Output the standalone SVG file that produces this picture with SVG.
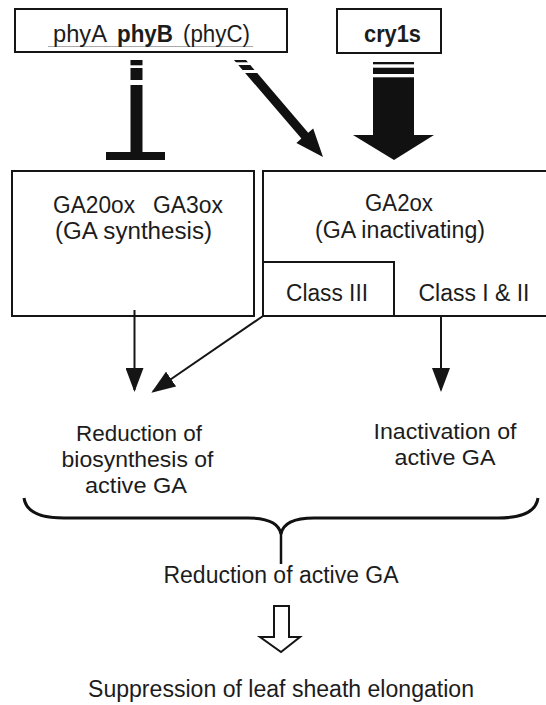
<svg xmlns="http://www.w3.org/2000/svg" width="546" height="705" viewBox="0 0 546 705">
<style>
text{font-family:"Liberation Sans",Arial,sans-serif;font-size:23px;fill:#1c1c1c}
.s{font-size:22px}
.b{font-weight:bold}
.box{fill:#fff;stroke:#151515;stroke-width:2}
.ln{fill:none;stroke:#151515;stroke-width:2}
.gap{fill:#fff}
</style>
<defs>
<marker id="ah" markerWidth="24" markerHeight="18" refX="22" refY="9" viewBox="0 0 24 18" orient="auto" markerUnits="userSpaceOnUse">
<path d="M0,0 L24,9 L0,18 Z" fill="#151515"/>
</marker>
</defs>
<rect width="546" height="705" fill="#fff"/>

<g id="phy">
<rect class="box" x="15" y="9" width="272" height="43"/>
<line x1="48" y1="46.5" x2="253" y2="46.5" stroke="#aaa" stroke-width="1"/>
<text x="53" y="42" textLength="54" lengthAdjust="spacingAndGlyphs">phyA</text>
<text class="b" x="117" y="42" textLength="56" lengthAdjust="spacingAndGlyphs">phyB</text>
<text x="183" y="42" textLength="67" lengthAdjust="spacingAndGlyphs">(phyC)</text>
</g>

<g id="cry1s">
<rect class="box" x="337" y="9" width="104" height="44"/>
<text class="b" x="364" y="42" textLength="57" lengthAdjust="spacingAndGlyphs">cry1s</text>
</g>

<g id="synthesis">
<rect class="box" x="12" y="171" width="242" height="145"/>
<text x="53" y="213" textLength="82" lengthAdjust="spacingAndGlyphs">GA20ox</text>
<text x="153" y="213" textLength="70" lengthAdjust="spacingAndGlyphs">GA3ox</text>
<text x="55" y="239" textLength="157" lengthAdjust="spacingAndGlyphs">(GA synthesis)</text>
</g>

<g id="inactivating">
<path class="ln" d="M560,171 L263,171 L263,316 L560,316"/>
<text x="399" y="211" text-anchor="middle" textLength="68" lengthAdjust="spacingAndGlyphs">GA2ox</text>
<text x="400" y="238" text-anchor="middle" textLength="170" lengthAdjust="spacingAndGlyphs">(GA inactivating)</text>
</g>

<g id="class3">
<rect class="box" x="263" y="262" width="131" height="54"/>
<text x="327" y="301" text-anchor="middle" textLength="82" lengthAdjust="spacingAndGlyphs">Class III</text>
</g>

<g id="class12">
<text x="474" y="301" text-anchor="middle" textLength="111" lengthAdjust="spacingAndGlyphs">Class I &amp; II</text>
</g>

<g id="reduction-biosynthesis">
<text class="s" x="139" y="441" text-anchor="middle" textLength="126" lengthAdjust="spacingAndGlyphs">Reduction of</text>
<text class="s" x="137.5" y="467" text-anchor="middle" textLength="152" lengthAdjust="spacingAndGlyphs">biosynthesis of</text>
<text class="s" x="136" y="493" text-anchor="middle" textLength="102" lengthAdjust="spacingAndGlyphs">active GA</text>
</g>

<g id="inactivation">
<text class="s" x="445" y="439" text-anchor="middle" textLength="143" lengthAdjust="spacingAndGlyphs">Inactivation of</text>
<text class="s" x="445" y="465" text-anchor="middle" textLength="101" lengthAdjust="spacingAndGlyphs">active GA</text>
</g>

<g id="reduction-active">
<text x="281" y="583" text-anchor="middle" textLength="235" lengthAdjust="spacingAndGlyphs">Reduction of active GA</text>
</g>

<g id="suppression">
<text x="281" y="697" text-anchor="middle" textLength="386" lengthAdjust="spacingAndGlyphs">Suppression of leaf sheath elongation</text>
</g>

<g id="connectors">
<!-- inhibition T-bar from phy -->
<rect x="130.5" y="60" width="12" height="93" fill="#111"/>
<rect x="106" y="152" width="59" height="8" fill="#111"/>
<rect class="gap" x="125" y="65.3" width="24" height="2.7"/>
<rect class="gap" x="125" y="80" width="24" height="5"/>
<!-- diagonal arrow from phy to GA2ox -->
<polygon points="234,60 246,60 308.2,132.8 313.2,128.5 323,157 296.4,142.9 301.4,138.6" fill="#111"/>
<rect class="gap" x="225" y="62.3" width="35" height="2.7"/>
<rect class="gap" x="225" y="70" width="35" height="3"/>
<!-- cry1s big arrow -->
<rect x="373" y="62" width="41" height="75" fill="#111"/>
<polygon points="353,135 434,135 394,160" fill="#111"/>
<rect class="gap" x="368" y="64.3" width="50" height="3.4"/>
<rect class="gap" x="368" y="74" width="50" height="3.3"/>
<!-- thin arrows -->
<line class="ln" x1="134.5" y1="310" x2="134.5" y2="390" marker-end="url(#ah)"/>
<line class="ln" x1="263" y1="316" x2="153" y2="391.5" marker-end="url(#ah)"/>
<line class="ln" x1="441" y1="316" x2="441" y2="390" marker-end="url(#ah)"/>
<!-- brace -->
<path d="M24,498 C26,512 40,518 64,518 L248,518 C268,518 279,523 281,534 C283,523 294,518 314,518 L498,518 C522,518 536,512 538,498" fill="none" stroke="#111" stroke-width="3"/>
<line x1="281" y1="532" x2="281" y2="564" stroke="#111" stroke-width="2.5"/>
<!-- hollow arrow -->
<polygon points="274,606 289,606 289,637 300,637 281,652 260,637 274,637" fill="#fff" stroke="#151515" stroke-width="2"/>
</g>
</svg>
